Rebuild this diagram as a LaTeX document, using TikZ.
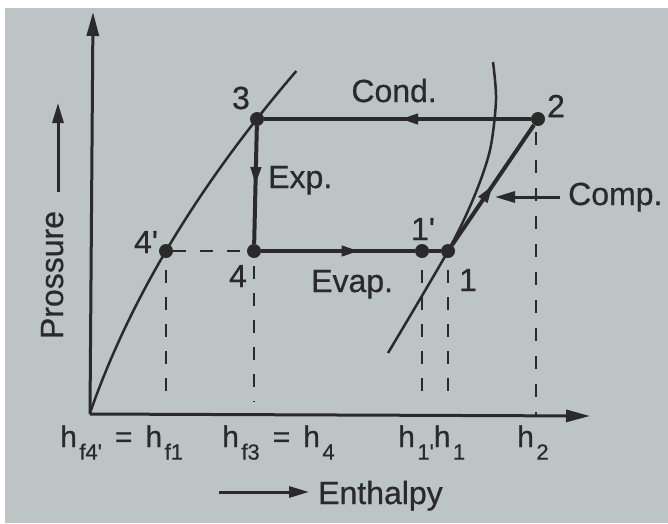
\documentclass[tikz,border=0pt]{standalone}
\usepackage{fontspec}
\setmainfont[FakeBold=0.6]{Liberation Sans}
\usetikzlibrary{arrows.meta,decorations.markings}
\definecolor{ink}{HTML}{2A2A2A}
\definecolor{paper}{HTML}{BCC4C6}
\newcommand{\sbs}[1]{\kern2.5pt\raisebox{-0.42em}{\fontsize{22}{23}\selectfont #1}}
\begin{document}
\begin{tikzpicture}[x=1pt,y=-1pt,
  dot/.style={circle,fill=ink,inner sep=0pt,minimum size=14pt},
  lbl/.style={text=ink,inner sep=0pt,font=\fontsize{32}{34}\selectfont},
  hlbl/.style={text=ink,inner sep=0pt,font=\fontsize{30}{32}\selectfont},
  cyc/.style={draw=ink,line width=4pt},
  sat/.style={draw=ink,line width=2.5pt},
  axisline/.style={draw=ink,line width=3pt,-{Triangle[length=24pt,width=12pt]}},
  smallarrow/.style={draw=ink,line width=3pt,-{Triangle[length=20pt,width=11pt]}},
  dsh/.style={draw=ink,line width=2.5pt,dash pattern=on 13pt off 14pt},
  midarrow/.style={postaction={decorate},decoration={markings,mark=at position #1 with {\arrow{Triangle[length=18pt,width=10pt]}}}},
]
% background
\fill[white] (0,0) rectangle (668,523);
\fill[paper] (5,8) rectangle (668,523);
\useasboundingbox (0,0) rectangle (668,523);

% axes
\coordinate (O) at (90,414);
\coordinate (Yt) at (93,12);
\coordinate (Xt) at (590,416);
\draw[axisline] (O) -- (Yt);
\draw[axisline] (O) -- (Xt);

% state points
\node[dot] (p3) at (257,119) {};
\node[dot] (p2) at (538,119) {};
\node[dot] (p4) at (254,251) {};
\node[dot] (p4p) at (166,251) {};
\node[dot] (p1p) at (422,251) {};
\node[dot] (p1) at (448,251) {};

% saturation curves
\draw[sat] plot[domain=0:342,samples=60,smooth] ({90+0.3476*\x+0.00075*\x*\x},{413-\x});
\draw[sat] plot[smooth] coordinates {(493,62) (496,100) (490,150) (474,197) (448,251) (388,353)};

% cycle
\draw[cyc,midarrow=0.49] (p2) -- (p3);
\draw[cyc,midarrow=0.5] (p3) -- (p4);
\draw[cyc,midarrow=0.64] (p4) -- (p1p);
\draw[cyc] (p1p) -- (p1);
\draw[cyc,midarrow=0.5] (p1) -- (p2);

% dashed lines
\draw[dsh] (p4p) -- (p4);
\coordinate (a1) at (166,270); \coordinate (a2) at (166,402);
\coordinate (b1) at (254,266); \coordinate (b2) at (254,402);
\coordinate (c1) at (422,270); \coordinate (c2) at (422,402);
\coordinate (d1) at (448,270); \coordinate (d2) at (448,402);
\coordinate (e1) at (536,132); \coordinate (e2) at (536,415);
\draw[dsh] (a1) -- (a2);
\draw[dsh] (b1) -- (b2);
\draw[dsh] (c1) -- (c2);
\draw[dsh] (d1) -- (d2);
\draw[dsh,dash pattern=on 13pt off 15pt] (e1) -- (e2);

% labels
\node[lbl] (l3) at (241,98) {3};
\node[lbl] (l2) at (556,106) {2};
\node[lbl,anchor=base east] (lc) at (437,102) {Cond.};
\node[lbl,anchor=base west] (le) at (268,188) {Exp.};
\node[lbl] (l4p) at (146,242) {4\textquotesingle};
\node[lbl] (l4) at (238,276) {4};
\node[lbl] (l1p) at (423,229) {1\textquotesingle};
\node[lbl] (l1) at (468,280) {1};
\node[lbl,anchor=base west] (lev) at (311,292) {Evap.};
\node[lbl,anchor=base west] (lcomp) at (568,205) {Comp.};
\coordinate (cs) at (560,197);
\coordinate (ct) at (495,197);
\draw[smallarrow] (cs) -- (ct);

\node[lbl,rotate=90,anchor=base] (lp) at (63,275) {Prossure};
\coordinate (ps) at (58,192);
\coordinate (pt) at (58,103);
\draw[smallarrow] (ps) -- (pt);

\node[lbl,anchor=base west] (len) at (318,504) {Enthalpy};
\coordinate (es) at (219,492);
\coordinate (et) at (309,492);
\draw[smallarrow] (es) -- (et);

\node[hlbl,anchor=base west] (h1) at (60,447) {h\sbs{f4\textquotesingle}\hspace{13pt}=\hspace{13pt}h\sbs{f1}};
\node[hlbl,anchor=base west] (h2) at (222,447) {h\sbs{f3}\hspace{13pt}=\hspace{13pt}h\sbs{4}};
\node[hlbl,anchor=base west] (h3) at (398,447) {h\sbs{1\textquotesingle}h\sbs{1}};
\node[hlbl,anchor=base west] (h4) at (517,447) {h\sbs{2}};
\end{tikzpicture}
\end{document}
